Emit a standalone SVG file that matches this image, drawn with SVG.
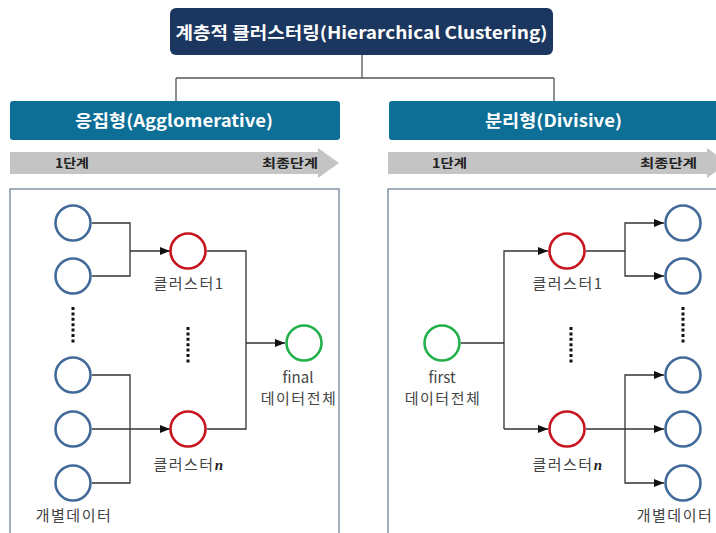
<svg xmlns="http://www.w3.org/2000/svg" width="716" height="533" viewBox="0 0 716 533">
  <defs>
    <marker id="arr" markerWidth="10" markerHeight="8" refX="10" refY="4" orient="auto" markerUnits="userSpaceOnUse">
      <path d="M0,0 L10,4 L0,8 Z" fill="#111"/>
    </marker>
    <style>
      text { font-family: "Noto Sans CJK KR", "Noto Sans", sans-serif; }
      .title { fill: #fff; font-weight: bold; font-size: 17px; }
      .head { fill: #fff; font-weight: bold; font-size: 17px; }
      .step { fill: #222; font-weight: bold; font-size: 12.5px; }
      .lbl { fill: #444; font-size: 15px; letter-spacing: 1.5px; text-anchor: middle; }
      .lbl.en { letter-spacing: 0; }
      .tree { fill: none; stroke: #555; stroke-width: 1.3; }
      .wire { fill: none; stroke: #333; stroke-width: 1.3; }
      .data { fill: #fff; stroke: #416a9a; stroke-width: 2.6; }
      .clus { fill: #fff; stroke: #c8141e; stroke-width: 2.6; }
      .all { fill: #fff; stroke: #22b04a; stroke-width: 2.6; }
      .dots { stroke: #111; stroke-width: 3; stroke-dasharray: 3 2.4; }
      .panel { fill: #fff; stroke: #8493a8; stroke-width: 1.5; }
      .bar { fill: #c4c4c4; }
      .var { font-family: "Liberation Serif", serif; font-style: italic; font-weight: bold; fill: #222; }
    </style>
  </defs>

  <rect width="716" height="533" fill="#fff"/>

  <!-- hierarchy connectors -->
  <g id="connectors-top">
    <path class="tree" d="M362,55 V78 M176,78 H554 M176,78 V101 M554,78 V101"/>
  </g>

  <g id="title">
    <rect x="170" y="8" width="383" height="47" rx="6" fill="#1b375f"/>
    <text class="title" x="361.5" y="38.5" text-anchor="middle" textLength="372" lengthAdjust="spacingAndGlyphs">계층적 클러스터링(Hierarchical Clustering)</text>
  </g>

  <g id="agglomerative-head">
    <rect x="10" y="101" width="330" height="39" rx="3" fill="#0d6e96"/>
    <text class="head" x="174" y="127" text-anchor="middle" textLength="198" lengthAdjust="spacingAndGlyphs">응집형(Agglomerative)</text>
  </g>

  <g id="divisive-head">
    <rect x="389" y="101" width="335" height="39" rx="3" fill="#0d6e96"/>
    <text class="head" x="553.5" y="127" text-anchor="middle" textLength="137" lengthAdjust="spacingAndGlyphs">분리형(Divisive)</text>
  </g>

  <!-- stage arrows -->
  <g id="agglomerative-stage">
    <path class="bar" d="M10,152 H318 V148 L339,163 L318,178 V174 H10 Z"/>
    <text class="step" x="55" y="168" textLength="34" lengthAdjust="spacingAndGlyphs">1단계</text>
    <text class="step" x="318" y="168" text-anchor="end" textLength="56" lengthAdjust="spacingAndGlyphs">최종단계</text>
  </g>
  <g id="divisive-stage">
    <path class="bar" d="M388,152 H707 V148 L728,163 L707,178 V174 H388 Z"/>
    <text class="step" x="432" y="168" textLength="35" lengthAdjust="spacingAndGlyphs">1단계</text>
    <text class="step" x="697" y="168" text-anchor="end" textLength="57" lengthAdjust="spacingAndGlyphs">최종단계</text>
  </g>

  <!-- panels -->
  <rect class="panel" x="10" y="189" width="329" height="360"/>
  <rect class="panel" x="388" y="189" width="340" height="360"/>

  <!-- agglomerative wiring -->
  <g id="connectors-agglomerative">
    <path class="wire" d="M92,223 H130 V276 H92 M130,251 H170" marker-end="url(#arr)"/>
    <path class="wire" d="M92,375 H130 V483 H92"/>
    <path class="wire" d="M92,429 H170" marker-end="url(#arr)"/>
    <path class="wire" d="M207,251 H246 V429 H207"/>
    <path class="wire" d="M246,343 H285" marker-end="url(#arr)"/>
  </g>

  <!-- divisive wiring -->
  <g id="connectors-divisive">
    <path class="wire" d="M461,343 H504"/>
    <path class="wire" d="M504,429 V251 H548" marker-end="url(#arr)"/>
    <path class="wire" d="M504,429 H548" marker-end="url(#arr)"/>
    <path class="wire" d="M586,251 H625 V223 H664" marker-end="url(#arr)"/>
    <path class="wire" d="M625,251 V276 H664" marker-end="url(#arr)"/>
    <path class="wire" d="M586,429 H664" marker-end="url(#arr)"/>
    <path class="wire" d="M625,429 V375 H664" marker-end="url(#arr)"/>
    <path class="wire" d="M625,429 V483 H664" marker-end="url(#arr)"/>
  </g>

  <!-- agglomerative nodes -->
  <g id="a-data-1"><circle class="data" cx="73" cy="223" r="17.5"/></g>
  <g id="a-data-2"><circle class="data" cx="73" cy="276" r="17.5"/></g>
  <g id="a-data-dots"><line class="dots" x1="73" y1="307" x2="73" y2="344"/></g>
  <g id="a-data-3"><circle class="data" cx="73" cy="375" r="17.5"/></g>
  <g id="a-data-4"><circle class="data" cx="73" cy="429" r="17.5"/></g>
  <g id="a-data-5">
    <circle class="data" cx="73" cy="483" r="17.5"/>
    <text class="lbl" x="74" y="521">개별데이터</text>
  </g>
  <g id="a-cluster-1">
    <circle class="clus" cx="188" cy="251" r="17.5"/>
    <text class="lbl" x="189" y="289">클러스터1</text>
  </g>
  <g id="a-cluster-dots"><line class="dots" x1="188" y1="327" x2="188" y2="363"/></g>
  <g id="a-cluster-n">
    <circle class="clus" cx="188" cy="429" r="17.5"/>
    <text class="lbl" x="189" y="470">클러스터<tspan class="var">n</tspan></text>
  </g>
  <g id="a-final">
    <circle class="all" cx="304" cy="343" r="17.5"/>
    <text class="lbl en" x="298" y="383">final</text>
    <text class="lbl" x="299" y="404">데이터전체</text>
  </g>

  <!-- divisive nodes -->
  <g id="d-first">
    <circle class="all" cx="442" cy="343" r="17.5"/>
    <text class="lbl en" x="442" y="383">first</text>
    <text class="lbl" x="443" y="404">데이터전체</text>
  </g>
  <g id="d-cluster-1">
    <circle class="clus" cx="567" cy="251" r="17.5"/>
    <text class="lbl" x="568" y="289">클러스터1</text>
  </g>
  <g id="d-cluster-dots"><line class="dots" x1="571" y1="327" x2="571" y2="363"/></g>
  <g id="d-cluster-n">
    <circle class="clus" cx="567" cy="429" r="17.5"/>
    <text class="lbl" x="568" y="470">클러스터<tspan class="var">n</tspan></text>
  </g>
  <g id="d-data-1"><circle class="data" cx="683" cy="223" r="17.5"/></g>
  <g id="d-data-2"><circle class="data" cx="683" cy="276" r="17.5"/></g>
  <g id="d-data-dots"><line class="dots" x1="683" y1="307" x2="683" y2="344"/></g>
  <g id="d-data-3"><circle class="data" cx="683" cy="375" r="17.5"/></g>
  <g id="d-data-4"><circle class="data" cx="683" cy="429" r="17.5"/></g>
  <g id="d-data-5">
    <circle class="data" cx="683" cy="483" r="17.5"/>
    <text class="lbl" x="675" y="521">개별데이터</text>
  </g>
</svg>
